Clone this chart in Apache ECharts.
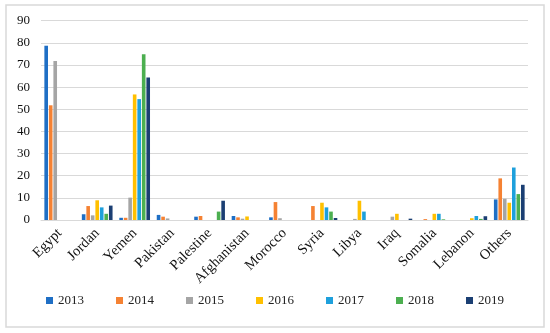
<!DOCTYPE html>
<html>
<head>
<meta charset="utf-8">
<script src="https://cdn.jsdelivr.net/npm/echarts@6/dist/echarts.min.js"></script>
<style>
html,body{margin:0;padding:0;background:#fff;}
#chart{width:550px;height:333px;}
</style>
</head>
<body>
<div id="chart"></div>
<script>
const categories = ['Egypt','Jordan','Yemen','Pakistan','Palestine','Afghanistan','Morocco','Syria','Libya','Iraq','Somalia','Lebanon','Others'];
const years = ['2013','2014','2015','2016','2017','2018','2019'];
const v2013 = [78.7, 2.6, 1.0, 2.3, 1.5, 1.8, 1.2, 0, 0, 0, 0, 0, 9.3];
const v2014 = [51.8, 6.3, 1.0, 1.5, 1.8, 1.2, 8.1, 6.3, 0, 0, 0.4, 0, 18.8];
const v2015 = [71.8, 2.1, 10.1, 0.7, 0, 0.6, 0.8, 0, 0.5, 1.5, 0, 0, 9.6];
const v2016 = [0, 8.9, 56.7, 0, 0, 1.6, 0, 7.8, 8.7, 2.8, 2.8, 0.8, 7.8];
const v2017 = [0, 5.7, 54.6, 0, 0, 0, 0, 5.7, 3.8, 0, 2.8, 1.8, 23.7];
const v2018 = [0, 2.8, 74.8, 0, 3.8, 0, 0, 3.8, 0, 0, 0.3, 0.5, 11.7];
const v2019 = [0, 6.5, 64.3, 0, 8.7, 0, 0, 0.9, 0, 0.6, 0, 1.7, 15.9];
const yTicks = {min: 0, max: 90, interval: 10};
const colors = ['#1F6FC5','#F58233','#A5A5A5','#FFC000','#1EA0DC','#4CAF50','#1B3F73'];

const seriesValues = [v2013, v2014, v2015, v2016, v2017, v2018, v2019];
const font = '"Liberation Serif", "Times New Roman", serif';

const chart = echarts.init(document.getElementById('chart'));
chart.setOption({
  animation: false,
  color: colors,
  graphic: [{
    type: 'rect',
    shape: {x: 6, y: 5, width: 538, height: 322},
    style: {fill: 'none', stroke: '#d9d9d9', lineWidth: 1.5},
    silent: true
  }],
  grid: {left: 41, right: 22, top: 20.7, bottom: 113, containLabel: false},
  legend: {
    data: years,
    bottom: 21,
    left: 'center',
    itemWidth: 7,
    itemHeight: 7,
    itemGap: 32,
    icon: 'rect',
    textStyle: {fontFamily: font, fontSize: 13, color: '#222'}
  },
  xAxis: {
    type: 'category',
    data: categories,
    axisTick: {show: false},
    axisLine: {lineStyle: {color: '#d9d9d9'}},
    axisLabel: {rotate: 45, fontFamily: font, fontSize: 14.5, color: '#111', interval: 0, margin: 11}
  },
  yAxis: {
    type: 'value',
    min: yTicks.min, max: yTicks.max, interval: yTicks.interval,
    axisLine: {show: false},
    axisTick: {show: false},
    splitLine: {lineStyle: {color: '#d9d9d9', width: 1}},
    axisLabel: {fontFamily: font, fontSize: 13, color: '#111', margin: 11}
  },
  series: years.map((y, i) => ({
    name: y,
    type: 'bar',
    data: seriesValues[i],
    barGap: '25%',
    barCategoryGap: '18%'
  }))
});
</script>
</body>
</html>
